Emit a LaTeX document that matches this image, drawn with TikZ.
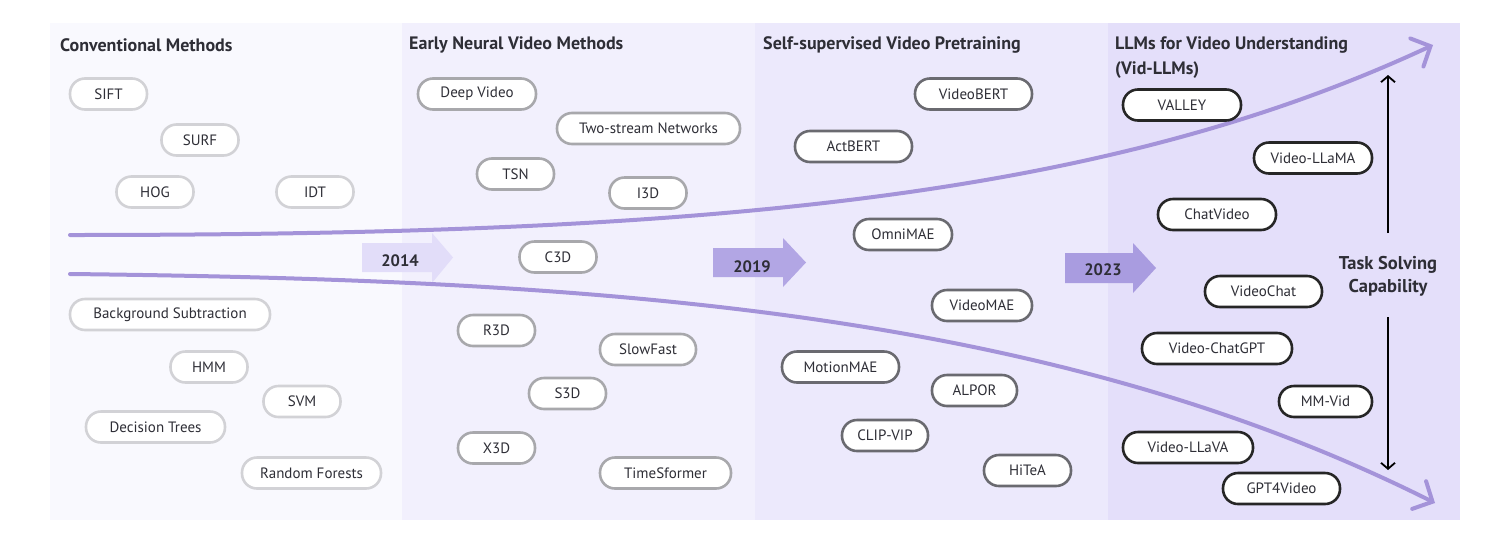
\documentclass[tikz,border=0pt]{standalone}
\usepackage{fontspec}
\setmainfont{PT Sans}
\usetikzlibrary{arrows.meta}
\definecolor{bgA}{HTML}{F9F9FE}
\definecolor{bgB}{HTML}{F2F0FD}
\definecolor{bgC}{HTML}{ECE9FC}
\definecolor{bgD}{HTML}{E4DFFA}
\definecolor{curvec}{HTML}{A493D9}
\definecolor{yrA}{HTML}{E2DDF9}
\definecolor{yrB}{HTML}{B2A6E4}
\definecolor{yrC}{HTML}{A99CE0}
\definecolor{bdA}{HTML}{D2D2D6}
\definecolor{bdB}{HTML}{A8A8AC}
\definecolor{bdC}{HTML}{6A6A70}
\definecolor{bdD}{HTML}{262626}
\definecolor{txt}{HTML}{2E2E36}
\tikzset{
  pill/.style={draw, fill=white, rounded corners=15pt, minimum height=31pt, line width=2.6pt,
    inner sep=0pt, text=txt, font=\fontsize{15}{18}\selectfont},
  pA/.style={pill, draw=bdA},
  pB/.style={pill, draw=bdB},
  pC/.style={pill, draw=bdC},
  pD/.style={pill, draw=bdD},
  ttl/.style={anchor=west, inner sep=0pt, text=txt, font=\fontsize{18}{21}\selectfont\bfseries},
  yr/.style={inner sep=0pt, text=txt, font=\fontsize{16.5}{18}\selectfont\bfseries},
  curve/.style={draw=curvec, line width=4pt, line cap=round,
    -{Straight Barb[length=15pt, width=31pt, line cap=round]}},
  vert/.style={draw=black, line width=1.8pt, -{Straight Barb[length=6pt, width=14pt]}}
}
\begin{document}
\begin{tikzpicture}[x=1pt, y=-1pt]
\useasboundingbox (0,0) rectangle (1509,555);
\fill[white] (0,0) rectangle (1509,555);
% panels
\fill[bgA] (50,23) rectangle (402,520);
\fill[bgB] (402,23) rectangle (755,520);
\fill[bgC] (755,23) rectangle (1108,520);
\fill[bgD] (1108,23) rectangle (1460,520);

% titles
\node[ttl] (t1) at (60,45) {Conventional Methods};
\node[ttl] (t2) at (409,45) {Early Neural Video Methods};
\node[ttl] (t3) at (763,45) {Self-supervised Video Pretraining};
\node[ttl] (t4) at (1115,45) {LLMs for Video Understanding};
\node[ttl] (t4b) at (1115,70) {(Vid-LLMs)};

% year arrows
\fill[yrA] (362,243) -- (432,243) -- (432,233) -- (453,257.5) -- (432,283) -- (432,272) -- (362,272) -- cycle;
\node[yr] (y14) at (400,261) {2014};
\fill[yrB] (713,248) -- (783,248) -- (783,238) -- (806,262.5) -- (783,287) -- (783,277) -- (713,277) -- cycle;
\node[yr] (y19) at (752,267) {2019};
\fill[yrC] (1065,253) -- (1133,253) -- (1133,243) -- (1156,268) -- (1133,293) -- (1133,283) -- (1065,283) -- cycle;
\node[yr] (y23) at (1103,270) {2023};

% curves
\coordinate (us) at (70,235);
\coordinate (ue) at (1433,45);
\coordinate (ls) at (70,274);
\coordinate (le) at (1435,503);
\draw[curve] (us) .. controls (700,235) and (1100,200) .. (ue);
\draw[curve] (ls) .. controls (600,280) and (1050,310) .. (le);

% panel 1
\node[pA, minimum width=77pt] (sift) at (108.5,94) {SIFT};
\node[pA, minimum width=77pt] (surf) at (200,140) {SURF};
\node[pA, minimum width=77pt] (hog) at (155,192) {HOG};
\node[pA, minimum width=77pt] (idt) at (315,192) {IDT};
\node[pA, minimum width=200pt] (bgs) at (170,314.5) {Background Subtraction};
\node[pA, minimum width=77pt] (hmm) at (209,367) {HMM};
\node[pA, minimum width=77pt] (svm) at (302,401.5) {SVM};
\node[pA, minimum width=139pt] (dt) at (155.5,427) {Decision Trees};
\node[pA, minimum width=139pt] (rf) at (311.5,473) {Random Forests};

% panel 2
\node[pB, minimum width=118pt] (dv) at (477,94) {Deep Video};
\node[pB, minimum width=183pt] (tsn2) at (648.5,128.5) {Two-stream Networks};
\node[pB, minimum width=77pt] (tsn) at (515.5,174) {TSN};
\node[pB, minimum width=77pt] (i3d) at (648,193) {I3D};
\node[pB, minimum width=77pt] (c3d) at (558,257) {C3D};
\node[pB, minimum width=77pt] (r3d) at (496.5,330.5) {R3D};
\node[pB, minimum width=96pt] (sf) at (648,349.5) {SlowFast};
\node[pB, minimum width=77pt] (s3d) at (567.5,393.5) {S3D};
\node[pB, minimum width=77pt] (x3d) at (496.5,448) {X3D};
\node[pB, minimum width=131pt] (tsf) at (665.5,473) {TimeSformer};

% panel 3
\node[pC, minimum width=117pt] (vbert) at (973.5,94) {VideoBERT};
\node[pC, minimum width=117pt] (abert) at (853.5,146.5) {ActBERT};
\node[pC, minimum width=98pt] (omni) at (903,234.5) {OmniMAE};
\node[pC, minimum width=100pt] (vmae) at (982,305.5) {VideoMAE};
\node[pC, minimum width=117pt] (mmae) at (840.5,367) {MotionMAE};
\node[pC, minimum width=85pt] (alpor) at (974.5,390.5) {ALPOR};
\node[pC, minimum width=86pt] (clip) at (885,435.5) {CLIP-VIP};
\node[pC, minimum width=87pt] (hitea) at (1027.5,470.5) {HiTeA};

% panel 4
\node[pD, minimum width=118pt] (valley) at (1182,105) {VALLEY};
\node[pD, minimum width=118pt] (vllama) at (1313,158) {Video-LLaMA};
\node[pD, minimum width=118pt] (cvid) at (1217,214.5) {ChatVideo};
\node[pD, minimum width=117pt] (vchat) at (1263.5,291.5) {VideoChat};
\node[pD, minimum width=150pt] (vcgpt) at (1217,348.5) {Video-ChatGPT};
\node[pD, minimum width=93pt] (mmvid) at (1325.5,401.5) {MM-Vid};
\node[pD, minimum width=130pt] (vllava) at (1188,447.5) {Video-LLaVA};
\node[pD, minimum width=117pt] (g4v) at (1281.5,488.5) {GPT4Video};

% task solving
\node[inner sep=0pt, align=center, text=txt, font=\fontsize{18.5}{23}\selectfont\bfseries] (task) at (1388,276.5) {Task Solving\\Capability};
\coordinate (upb) at (1388,233);
\coordinate (upt) at (1388,75);
\coordinate (dnt) at (1388,317);
\coordinate (dnb) at (1388,470);
\draw[vert] (upb) -- (upt);
\draw[vert] (dnt) -- (dnb);
\end{tikzpicture}
\end{document}
